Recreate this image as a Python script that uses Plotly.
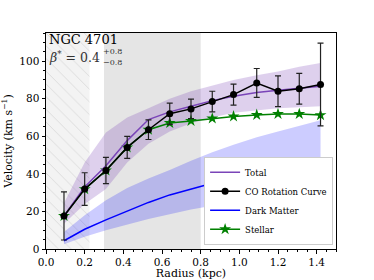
import plotly.graph_objects as go

# ---------------- data ----------------
radius = [0.093, 0.20, 0.31, 0.42, 0.53, 0.64, 0.75, 0.86, 0.97, 1.09, 1.20, 1.31, 1.42]
co_vel = [17.6, 31.9, 41.8, 54.1, 63.5, 72.0, 74.6, 78.5, 82.2, 88.4, 84.0, 85.3, 87.6]
co_err = [12.8, 8.7, 7.0, 5.9, 5.2, 5.7, 5.2, 5.5, 5.6, 7.7, 8.2, 8.2, 22.0]
stellar_vel = [17.6, 31.9, 41.8, 54.1, 63.5, 67.1, 68.2, 69.5, 70.6, 71.4, 71.9, 71.9, 71.3]
dm_vel = [4.4, 10.5, 15.5, 20.2, 24.8, 28.8, 32.0, 35.0, 37.8, 40.5, 43.0, 45.6, 48.3]
dm_low = [2.5, 6.5, 10.0, 13.0, 16.0, 18.5, 21.0, 23.0, 25.0, 27.0, 28.5, 30.0, 31.5]
dm_high = [9.0, 18.0, 26.0, 32.5, 37.5, 42.0, 47.0, 51.5, 55.5, 59.5, 62.5, 65.5, 68.5]
total_vel = [17.6, 33.0, 44.3, 57.7, 68.9, 73.0, 76.0, 79.0, 81.3, 83.3, 84.5, 85.7, 86.7]
total_low = [13.5, 24.0, 32.0, 46.0, 56.0, 62.5, 67.0, 70.0, 72.5, 74.0, 75.0, 75.5, 76.0]
total_high = [24.5, 46.0, 62.0, 70.0, 75.0, 80.0, 84.0, 87.0, 90.0, 92.5, 94.5, 97.0, 99.0]

hatch_region = [0.0, 0.225]      # radial range of hatched region
gray_region = [0.30, 0.80]       # radial range of grey region
x_range = [0.0, 1.5]
y_range = [0.0, 115.0]
x_ticks = [0.0, 0.2, 0.4, 0.6, 0.8, 1.0, 1.2, 1.4]
x_ticklabels = ["0.0", "0.2", "0.4", "0.6", "0.8", "1.0", "1.2", "1.4"]
y_ticks = [0, 20, 40, 60, 80, 100]

galaxy = "NGC 4701"
beta_val = "0.4"
beta_up = "+0.8"
beta_dn = "−0.8"

FONT = "DejaVu Serif"
PURPLE = "#7a44b8"
BLUE = "#0000ff"
GREEN = "#008000"

fig = go.Figure()

# hatched region
fig.add_trace(go.Scatter(
    x=[hatch_region[0], hatch_region[1], hatch_region[1], hatch_region[0], hatch_region[0]],
    y=[y_range[0], y_range[0], y_range[1], y_range[1], y_range[0]],
    mode="lines", line=dict(width=0), fill="toself", fillcolor="#f3f3f3",
    fillpattern=dict(shape="\\", fgcolor="#c0c0c0", bgcolor="#f3f3f3", size=9, solidity=0.1),
    showlegend=False, hoverinfo="skip"))

# grey region as shape
fig.add_shape(type="rect", xref="x", yref="y", x0=gray_region[0], x1=gray_region[1],
              y0=y_range[0], y1=y_range[1], fillcolor="#e5e5e5", line=dict(width=0), layer="below")

# DM band
fig.add_trace(go.Scatter(x=radius, y=dm_low, mode="lines", line=dict(width=0),
                         showlegend=False, hoverinfo="skip"))
fig.add_trace(go.Scatter(x=radius, y=dm_high, mode="lines", line=dict(width=0),
                         fill="tonexty", fillcolor="rgba(0,0,255,0.2)",
                         showlegend=False, hoverinfo="skip"))
# Total band
fig.add_trace(go.Scatter(x=radius, y=total_low, mode="lines", line=dict(width=0),
                         showlegend=False, hoverinfo="skip"))
fig.add_trace(go.Scatter(x=radius, y=total_high, mode="lines", line=dict(width=0),
                         fill="tonexty", fillcolor="rgba(122,68,184,0.25)",
                         showlegend=False, hoverinfo="skip"))

# lines
fig.add_trace(go.Scatter(x=radius, y=dm_vel, mode="lines", name="Dark Matter",
                         line=dict(color=BLUE, width=1.5), legendrank=3))
fig.add_trace(go.Scatter(x=radius, y=stellar_vel, mode="lines+markers", name="Stellar",
                         line=dict(color=GREEN, width=1.5),
                         marker=dict(symbol="star", size=9, color=GREEN), legendrank=4))
fig.add_trace(go.Scatter(x=radius, y=total_vel, mode="lines", name="Total",
                         line=dict(color=PURPLE, width=1.5), legendrank=1))
fig.add_trace(go.Scatter(x=radius, y=co_vel, mode="lines+markers", name="CO Rotation Curve",
                         line=dict(color="black", width=1.5),
                         marker=dict(symbol="circle", size=7, color="black"),
                         error_y=dict(type="data", array=co_err, color="#222222", thickness=1.2, width=3),
                         legendrank=2))

axis_common = dict(showline=True, linecolor="black", linewidth=1, mirror=True,
                   ticks="outside", ticklen=3.5, tickcolor="black", showgrid=False,
                   zeroline=False, tickfont=dict(family=FONT, size=10.5, color="black"))

fig.update_xaxes(range=x_range, tickvals=x_ticks, ticktext=x_ticklabels,
                 title=dict(text="Radius (kpc)", font=dict(family=FONT, size=11, color="black"), standoff=1),
                 minor=dict(dtick=0.05, ticks="outside", ticklen=2, tickcolor="black"),
                 **axis_common)
fig.update_yaxes(range=y_range, tickvals=y_ticks,
                 title=dict(text="Velocity (km s<sup>−1</sup>)", font=dict(family=FONT, size=11, color="black"), standoff=4),
                 minor=dict(dtick=5, ticks="outside", ticklen=2, tickcolor="black"),
                 **axis_common)

fig.add_annotation(xref="paper", yref="paper", x=0.005, y=0.97, xanchor="left", yanchor="middle",
                   text=galaxy, showarrow=False, font=dict(family=FONT, size=13, color="black"))
fig.add_annotation(xref="paper", yref="paper", x=0.005, y=0.888, xanchor="left", yanchor="middle",
                   text="<i>β</i><sup>*</sup> = " + beta_val, showarrow=False,
                   font=dict(family=FONT, size=12.5, color="#333333"))
fig.add_annotation(xref="paper", yref="paper", x=0.19, y=0.915, xanchor="left", yanchor="middle",
                   text=beta_up, showarrow=False, font=dict(family=FONT, size=8, color="#333333"))
fig.add_annotation(xref="paper", yref="paper", x=0.19, y=0.862, xanchor="left", yanchor="middle",
                   text=beta_dn, showarrow=False, font=dict(family=FONT, size=8, color="#333333"))

fig.update_layout(
    width=374, height=280,
    margin=dict(l=46, r=38, t=33, b=31, autoexpand=False),
    paper_bgcolor="white", plot_bgcolor="white",
    font=dict(family=FONT, color="black"),
    legend=dict(x=0.99, y=0.02, xanchor="right", yanchor="bottom",
                bgcolor="white", bordercolor="#cccccc", borderwidth=1,
                font=dict(family=FONT, size=8.5, color="black"),
                itemwidth=30, tracegroupgap=0, traceorder="normal"),
)

fig.write_html("out.html", config={"displayModeBar": False},
               post_script="document.body.style.margin='0px';")
